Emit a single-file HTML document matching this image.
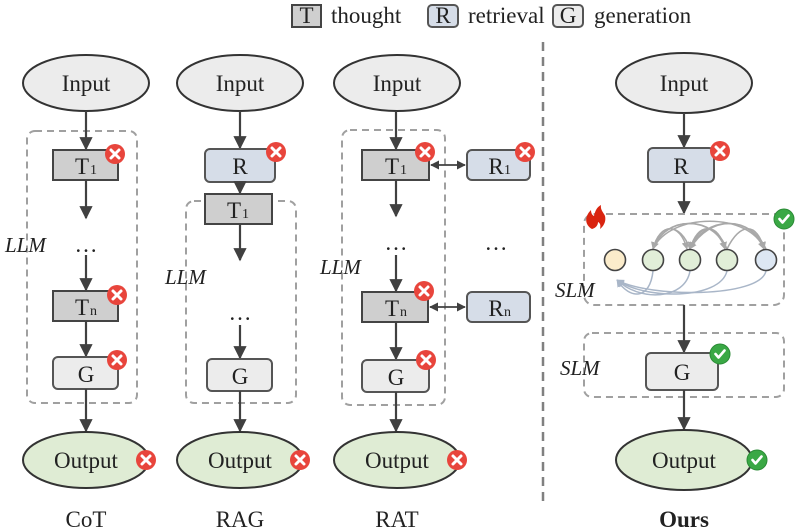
<!DOCTYPE html>
<html><head><meta charset="utf-8"><style>
html,body{margin:0;padding:0;background:#fff;}
svg{display:block;font-family:"Liberation Serif",serif;}
</style></head><body>
<svg width="797" height="532" viewBox="0 0 797 532" xmlns="http://www.w3.org/2000/svg">
<defs>
<marker id="a" viewBox="0 0 10 10" refX="9" refY="5" markerWidth="6" markerHeight="6" orient="auto-start-reverse"><path d="M0,0L10,5L0,10z" fill="#404040"/></marker>
<marker id="s" viewBox="0 0 10 10" refX="9" refY="5" markerWidth="5" markerHeight="5" orient="auto-start-reverse"><path d="M0,0L10,5L0,10z" fill="#404040"/></marker>
<marker id="g" viewBox="0 0 10 10" refX="9" refY="5" markerWidth="5" markerHeight="5" orient="auto"><path d="M0,0L10,5L0,10z" fill="#a8a8a8"/></marker>
<marker id="b" viewBox="0 0 10 10" refX="9" refY="5" markerWidth="5" markerHeight="5" orient="auto"><path d="M0,0L10,5L0,10z" fill="#a9b6c8"/></marker>
<g id="x"><circle r="10" fill="#e8453c"/><path d="M-4,-4L4,4M4,-4L-4,4" stroke="#fff" stroke-width="3" stroke-linecap="round"/></g>
<g id="c"><circle r="10" fill="#3aa845" stroke="#2a8a35" stroke-width="1"/><path d="M-4.5,0L-1.5,3.5L4.5,-3.5" stroke="#fff" stroke-width="2.6" fill="none" stroke-linecap="round" stroke-linejoin="round"/></g>
</defs>
<style>
.t{fill:#cfcfcf;stroke:#444;stroke-width:2}
.r{fill:#d6dde8;stroke:#555;stroke-width:2}
.gg{fill:#ececec;stroke:#555;stroke-width:2}
.e{fill:#ececec;stroke:#333;stroke-width:2}
.o{fill:#dfecd4;stroke:#333;stroke-width:2}
.d{fill:none;stroke:#a0a0a0;stroke-width:2;stroke-dasharray:7,5}
.l{stroke:#404040;stroke-width:2.2;fill:none}
text{font-size:23px;fill:#222}
.lb{font-size:21px;font-style:italic}
.sub{font-size:14px}
</style>
<!-- legend -->
<rect x="292" y="5" width="29" height="22" class="t"/><text x="306.5" y="23" text-anchor="middle" font-size="19">T</text><text x="331" y="23" font-size="19">thought</text>
<rect x="428" y="5" width="30" height="22" rx="4" class="r"/><text x="443" y="23" text-anchor="middle" font-size="19">R</text><text x="468" y="23" font-size="19">retrieval</text>
<rect x="553" y="5" width="30" height="22" rx="4" class="gg"/><text x="568" y="23" text-anchor="middle" font-size="19">G</text><text x="594" y="23" font-size="19">generation</text>

<line x1="543" y1="42" x2="543" y2="505" stroke="#808080" stroke-width="2.5" stroke-dasharray="9,6"/>

<!-- CoT -->
<ellipse cx="86" cy="83" rx="63" ry="28" class="e"/><text x="86" y="91" text-anchor="middle">Input</text>
<rect x="27" y="131" width="110" height="272" rx="8" class="d"/>
<line x1="86" y1="111" x2="86" y2="149" class="l" marker-end="url(#a)"/>
<rect x="53" y="150" width="65" height="30" class="t"/><text x="82" y="174" text-anchor="middle">T</text><text x="90" y="174" class="sub">1</text>
<use href="#x" x="115" y="154"/>
<line x1="86" y1="180" x2="86" y2="218" class="l" marker-end="url(#a)"/>
<text x="86" y="252" text-anchor="middle">…</text>
<text x="5" y="252" class="lb">LLM</text>
<line x1="86" y1="255" x2="86" y2="290" class="l" marker-end="url(#a)"/>
<rect x="53" y="291" width="65" height="30" class="t"/><text x="82" y="315" text-anchor="middle">T</text><text x="90" y="315" class="sub">n</text>
<use href="#x" x="117" y="295"/>
<line x1="86" y1="321" x2="86" y2="356" class="l" marker-end="url(#a)"/>
<rect x="53" y="357" width="65" height="32" rx="5" class="gg"/><text x="86" y="382" text-anchor="middle">G</text>
<use href="#x" x="117" y="360"/>
<line x1="86" y1="389" x2="86" y2="431" class="l" marker-end="url(#a)"/>
<ellipse cx="86" cy="460" rx="63" ry="28" class="o"/><text x="86" y="468" text-anchor="middle">Output</text>
<use href="#x" x="146" y="460"/>
<text x="86" y="527" text-anchor="middle" font-size="21">CoT</text>

<!-- RAG -->
<ellipse cx="240" cy="83" rx="63" ry="28" class="e"/><text x="240" y="91" text-anchor="middle">Input</text>
<line x1="240" y1="111" x2="240" y2="148" class="l" marker-end="url(#a)"/>
<rect x="205" y="149" width="70" height="33" rx="5" class="r"/><text x="240" y="174" text-anchor="middle">R</text>
<use href="#x" x="276" y="152"/>
<rect x="186" y="201" width="110" height="202" rx="8" class="d"/>
<line x1="240" y1="182" x2="240" y2="193" class="l" marker-end="url(#a)"/>
<rect x="205" y="194" width="67" height="30" class="t"/><text x="234" y="218" text-anchor="middle">T</text><text x="242" y="218" class="sub">1</text>
<line x1="240" y1="224" x2="240" y2="260" class="l" marker-end="url(#a)"/>
<text x="240" y="320" text-anchor="middle">…</text>
<text x="165" y="284" class="lb">LLM</text>
<line x1="240" y1="325" x2="240" y2="358" class="l" marker-end="url(#a)"/>
<rect x="207" y="359" width="65" height="32" rx="5" class="gg"/><text x="240" y="384" text-anchor="middle">G</text>
<line x1="240" y1="391" x2="240" y2="431" class="l" marker-end="url(#a)"/>
<ellipse cx="240" cy="460" rx="63" ry="28" class="o"/><text x="240" y="468" text-anchor="middle">Output</text>
<use href="#x" x="300" y="460"/>
<text x="240" y="527" text-anchor="middle" font-size="21">RAG</text>

<!-- RAT -->
<ellipse cx="397" cy="83" rx="63" ry="28" class="e"/><text x="397" y="91" text-anchor="middle">Input</text>
<rect x="342" y="130" width="103" height="275" rx="8" class="d"/>
<line x1="396" y1="111" x2="396" y2="149" class="l" marker-end="url(#a)"/>
<rect x="362" y="150" width="67" height="30" class="t"/><text x="392" y="174" text-anchor="middle">T</text><text x="400" y="174" class="sub">1</text>
<use href="#x" x="425" y="152"/>
<rect x="467" y="150" width="63" height="30" rx="5" class="r"/><text x="496" y="174" text-anchor="middle">R</text><text x="504" y="174" class="sub">1</text>
<use href="#x" x="525" y="152"/>
<line x1="431" y1="165" x2="465" y2="165" stroke="#404040" stroke-width="1.8" marker-start="url(#s)" marker-end="url(#s)"/>
<line x1="396" y1="180" x2="396" y2="216" class="l" marker-end="url(#a)"/>
<text x="396" y="250" text-anchor="middle">…</text>
<text x="496" y="250" text-anchor="middle">…</text>
<text x="320" y="274" class="lb">LLM</text>
<line x1="396" y1="255" x2="396" y2="291" class="l" marker-end="url(#a)"/>
<rect x="362" y="292" width="66" height="30" class="t"/><text x="392" y="316" text-anchor="middle">T</text><text x="400" y="316" class="sub">n</text>
<use href="#x" x="424" y="291"/>
<rect x="467" y="292" width="63" height="30" rx="5" class="r"/><text x="496" y="316" text-anchor="middle">R</text><text x="504" y="316" class="sub">n</text>
<line x1="430" y1="307" x2="465" y2="307" stroke="#404040" stroke-width="1.8" marker-start="url(#s)" marker-end="url(#s)"/>
<line x1="396" y1="322" x2="396" y2="359" class="l" marker-end="url(#a)"/>
<rect x="362" y="360" width="67" height="32" rx="5" class="gg"/><text x="396" y="385" text-anchor="middle">G</text>
<use href="#x" x="426" y="360"/>
<line x1="396" y1="392" x2="396" y2="431" class="l" marker-end="url(#a)"/>
<ellipse cx="397" cy="460" rx="63" ry="28" class="o"/><text x="397" y="468" text-anchor="middle">Output</text>
<use href="#x" x="457" y="460"/>
<text x="397" y="527" text-anchor="middle" font-size="21">RAT</text>

<!-- Ours -->
<ellipse cx="684" cy="83" rx="68" ry="30" class="e"/><text x="684" y="91" text-anchor="middle">Input</text>
<line x1="684" y1="113" x2="684" y2="147" class="l" marker-end="url(#a)"/>
<rect x="648" y="148" width="66" height="34" rx="5" class="r"/><text x="681" y="174" text-anchor="middle">R</text>
<use href="#x" x="720" y="151"/>
<line x1="684" y1="182" x2="684" y2="213" class="l" marker-end="url(#a)"/>
<rect x="584" y="214" width="200" height="91" rx="10" class="d"/>
<path d="M592,229c-7,-4,-8,-12,-1,-19c0,5,3,6,3,6c1,-5,3,-9,7,-11c-1,5,3,8,4,11c1,4,0,9,-5,13c1,-4,0,-6,-2,-7c0,3,-2,6,-6,7z" fill="#d9240f"/>
<use href="#c" x="784" y="219"/>
<g fill="none" stroke="#a8a8a8" stroke-width="1.5">
<path d="M653,249C660,222 680,222 687,249" marker-end="url(#g)"/>
<path d="M653,249C665,215 715,215 725,249" marker-end="url(#g)"/>
<path d="M653,249C670,212 750,212 764,249" marker-end="url(#g)"/>
<path d="M690,249C680,222 660,222 653,249" marker-end="url(#g)"/>
<path d="M690,249C700,222 718,222 725,249" marker-end="url(#g)"/>
<path d="M690,249C705,215 752,215 764,249" marker-end="url(#g)"/>
<path d="M727,249C715,222 698,222 690,249" marker-end="url(#g)"/>
<path d="M727,249C712,215 665,215 653,249" marker-end="url(#g)"/>
<path d="M727,249C740,222 757,222 764,249" marker-end="url(#g)"/>
<path d="M766,249C750,215 710,215 690,249" marker-end="url(#g)"/>
</g>
<g fill="none" stroke="#a9b6c8" stroke-width="1.5">
<path d="M653,271C650,300 630,300 617,280" marker-end="url(#b)"/>
<path d="M690,271C685,300 640,302 617,280" marker-end="url(#b)"/>
<path d="M727,271C720,300 645,300 617,280" marker-end="url(#b)"/>
<path d="M766,271C760,298 650,298 617,280" marker-end="url(#b)"/>
</g>
<circle cx="615" cy="260" r="10.5" fill="#fbeccb" stroke="#444" stroke-width="1.6"/>
<circle cx="653" cy="260" r="10.5" fill="#e1eed8" stroke="#444" stroke-width="1.6"/>
<circle cx="690" cy="260" r="10.5" fill="#e1eed8" stroke="#444" stroke-width="1.6"/>
<circle cx="727" cy="260" r="10.5" fill="#e1eed8" stroke="#444" stroke-width="1.6"/>
<circle cx="766" cy="260" r="10.5" fill="#dde7f3" stroke="#444" stroke-width="1.6"/>
<text x="555" y="297" class="lb">SLM</text>
<line x1="684" y1="305" x2="684" y2="352" class="l" marker-end="url(#a)"/>
<rect x="584" y="333" width="200" height="64" rx="8" class="d"/>
<text x="560" y="375" class="lb">SLM</text>
<rect x="646" y="353" width="72" height="37" rx="5" class="gg"/><text x="682" y="380" text-anchor="middle">G</text>
<use href="#c" x="720" y="354"/>
<line x1="684" y1="390" x2="684" y2="429" class="l" marker-end="url(#a)"/>
<ellipse cx="684" cy="460" rx="68" ry="30" class="o"/><text x="684" y="468" text-anchor="middle">Output</text>
<use href="#c" x="757" y="460"/>
<text x="684" y="527" text-anchor="middle" font-weight="bold" font-size="21">Ours</text>
</svg>
</body></html>
